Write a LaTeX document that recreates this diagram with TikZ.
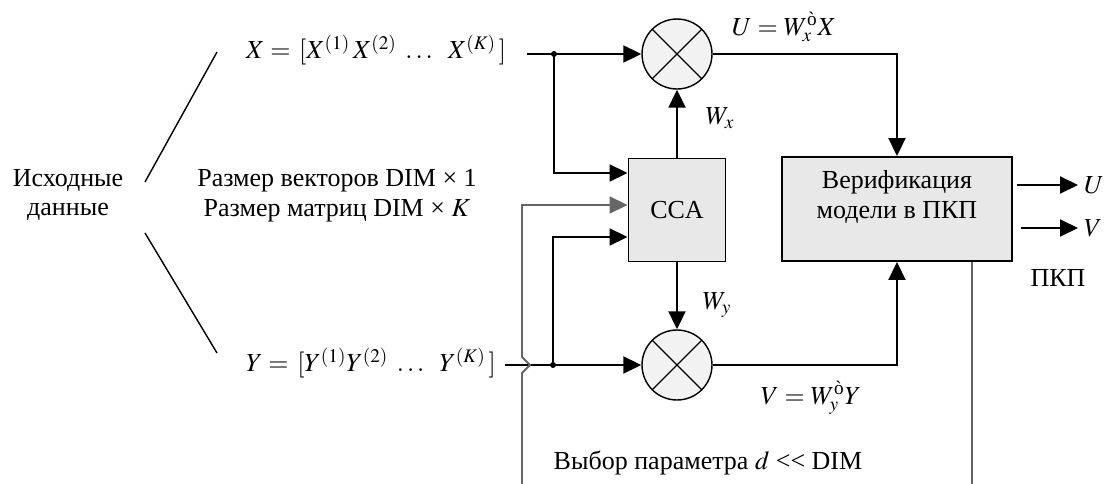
\documentclass[tikz,border=0pt]{standalone}
\usepackage{amsmath}
\usepackage{mathptmx}
\usepackage[no-math]{fontspec}
\setmainfont{Liberation Serif}
\usetikzlibrary{arrows.meta,positioning,calc}

\tikzset{
    block/.style={draw, line width=1.1pt, fill=black!9},
    mult/.style={circle, draw, line width=0.8pt, fill=black!5, minimum size=1.4cm, inner sep=0pt},
    wire/.style={line width=1.1pt},
    feed/.style={line width=1.1pt, draw=black!60},
    arr/.style={-{Triangle[length=0.36cm,width=0.34cm]}}
}

\begin{document}
\begin{tikzpicture}[
    x=0.02cm, y=-0.02cm,
    every node/.style={font=\fontsize{14.8}{17}\selectfont}
]
\useasboundingbox (0,0) rectangle (1117,484);

% source data
\node[align=center] (src) at (68,195) {Исходные\\данные};
\node[anchor=west] (xin) at (240,50) {$X =\,[X^{(1)}\,X^{(2)}\;\ldots\;\ X^{(K)}\,]$};
\node[anchor=west] (yin) at (240,363) {$Y =\,[Y^{(1)}Y^{(2)}\;\ldots\;\ Y^{(K)}\,]$};
\node[align=center] (dims) at (337,196) {Размер векторов DIM × 1\\Размер матриц DIM × $K$};
\coordinate (brx) at (217,52);
\coordinate (brx0) at (145,182);
\coordinate (bry0) at (145,233);
\coordinate (bry) at (217,353);
\draw[line width=0.8pt] (brx0) -- (brx) (bry0) -- (bry);

% blocks
\node[mult] (mulx) at (677,54) {};
\node[mult] (muly) at (677,365) {};
\foreach \m in {mulx,muly}
    \draw[line width=0.7pt] (\m.45) -- (\m.225) (\m.135) -- (\m.315);
\node[block, minimum width=1.94cm, minimum height=2.06cm] (cca) at (677,210) {CCA};
\node[block, minimum width=4.6cm, minimum height=2.08cm, align=center] (ver) at (897,209)
    {Верификация\\модели в ПКП\\\mbox{}};

% wires
\coordinate (xstart) at (527,54);
\coordinate (jx) at (554,54);
\coordinate (ystart) at (505,365);
\coordinate (jy) at (553,365);
\coordinate (hop) at (522,365);
\coordinate (fbl) at (522,484);
\coordinate (fbr) at (972,484);

\draw[wire, arr] (xstart) -- (mulx.west);
\draw[wire, arr] (jx) |- ($(cca.west)+(0,-37)$);
\draw[wire, arr] (ystart) -- (muly.west);
\draw[wire, arr] (jy) |- ($(cca.west)+(0,27)$);
\draw[feed, arr] (fbl) -- ($(hop)+(0,8)$) -- ($(hop)+(8,0)$) -- ($(hop)+(0,-8)$)
    |- ($(cca.west)+(0,-5)$);
\draw[feed] (fbr |- ver.south) -- (fbr);
\fill (jx) circle (0.06cm) (jy) circle (0.06cm);

\draw[wire, arr] (cca.north) -- (mulx.south);
\draw[wire, arr] (cca.south) -- (muly.north);
\draw[wire, arr] (mulx.east) -| (ver.north);
\draw[wire, arr] (muly.east) -| (ver.south);

% outputs
\node[anchor=west] (uout) at (1078,185) {$U$};
\node[anchor=west] (vout) at (1078,228) {$V$};
\draw[wire, arr] ($(ver.east)+(4,-24)$) -- (uout.west);
\draw[wire, arr] ($(ver.east)+(8,19)$) -- (vout.west);
\node (pkp) at (1058,278) {ПКП};

% labels
\node (ulbl) at (784,27) {$U = W_x^{\text{ò}}X$};
\node (vlbl) at (811,398) {$V = W_y^{\text{ò}}Y$};
\node (wxl) at (720,118) {$W_x$};
\node (wyl) at (717,305) {$W_y$};
\node (sel) at (708,463) {Выбор параметра $d$ <{}< DIM};
\end{tikzpicture}
\end{document}
